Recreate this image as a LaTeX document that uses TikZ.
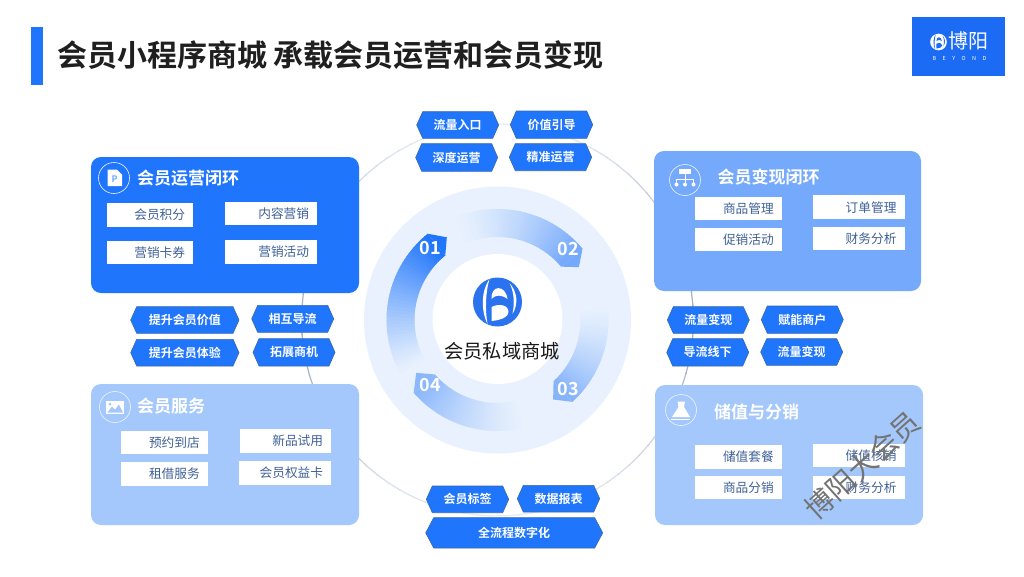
\documentclass[tikz,border=0pt]{standalone}
\usepackage{fontspec}
\setmainfont{Noto Sans CJK SC}[BoldFont={Noto Sans CJK SC Bold}]
\definecolor{mainblue}{HTML}{1F75FB}
\definecolor{midblue}{HTML}{74A9FB}
\definecolor{paleblue}{HTML}{A5C8FC}
\definecolor{ringbg}{HTML}{E8F1FD}
\definecolor{tagedge}{HTML}{3A6AA8}
\definecolor{boxtext}{HTML}{3F6198}
\definecolor{linegrey}{HTML}{A3B1C4}
\definecolor{lightline}{HTML}{E6EBF2}
\definecolor{logoblue}{HTML}{1C6BF5}
\definecolor{discblue}{HTML}{2A72EE}
\tikzset{
  x=1pt,y=-1pt,
  card/.style={rounded corners=10pt},
  whitebox/.style={fill=white},
  boxlabel/.style={text=boxtext,font=\fontsize{12.7}{13}\selectfont,anchor=east,inner sep=0pt},
  cardtitle/.style={text=white,font=\bfseries\fontsize{17}{17}\selectfont,anchor=west,inner sep=0pt},
  taglabel/.style={text=white,font=\bfseries\fontsize{12}{12}\selectfont,inner sep=0pt},
  tagshape/.style={fill=mainblue,draw=tagedge,line width=0.6pt,line join=round},
  iconring/.style={draw=white!80!paleblue,line width=0.6pt},
  ringnum/.style={text=white,font=\bfseries\fontsize{18}{18}\selectfont,inner sep=0pt},
}
% \tagbox{name}{x1}{y1}{x2}{y2}{inset}{text}
\newcommand{\tagbox}[7]{%
  \draw[tagshape] (#2+#6,#3) -- (#4-#6,#3) -- (#4,{(#3+#5)/2}) -- (#4-#6,#5) -- (#2+#6,#5) -- (#2,{(#3+#5)/2}) -- cycle;
  \node[taglabel] (#1) at ({(#2+#4)/2},{(#3+#5)/2}) {#7};
}
% \itembox{name}{x1}{y1}{x2}{y2}{textend}{text}
\newcommand{\itembox}[7]{%
  \fill[whitebox] (#2,#3) rectangle (#4,#5);
  \node[boxlabel] (#1) at (#6,{(#3+#5)/2}) {#7};
}
\newcommand{\polarpt}[2]{({497.5+#1*cos(#2)},{320-#1*sin(#2)})}
% \bandarc{head angle}{tail angle}{tip angle}{head colour}{exponent}
\newcommand{\bandarc}[5]{%
  \foreach \i in {0,...,39} {
    \pgfmathsetmacro{\aa}{#1+(#2-(#1))*\i/40}
    \pgfmathsetmacro{\ab}{#1+(#2-(#1))*(\i+1.25)/40}
    \pgfmathsetmacro{\mixv}{100*(1-\i/40)^#5}
    \fill[#4!\mixv!ringbg] \polarpt{111}{\aa} -- \polarpt{111}{\ab} -- \polarpt{83}{\ab} -- \polarpt{83}{\aa} -- cycle;
  }
  \fill[#4] \polarpt{111}{#1} -- \polarpt{97}{#3} -- \polarpt{83}{#1} -- cycle;
}
% brand mark: disc of radius 24.5 with its counters, at (#1) scaled by #2
\newcommand{\brandmark}[4]{%
  \begin{scope}[shift={(#1)},scale=#2]
    \fill[#3] (0,0) circle[radius=24.5];
    \fill[#4] (-8,-23) .. controls (-16,-12) and (-17,8) .. (-10,22) .. controls (-12.5,8) and (-12,-10) .. (-8,-23) -- cycle;
    \fill[#4] (12,-19) .. controls (20,-10) and (21,2) .. (15,12) .. controls (17,2) and (17,-9) .. (12,-19) -- cycle;
    \fill[#4] (-6,-3) .. controls (-7,-17) and (8,-18) .. (10,-3) .. controls (4,-7.5) and (-2,-7.5) .. (-6,-3) -- cycle;
    \fill[#4] (-6,5) .. controls (2,1) and (11,3) .. (11,10) .. controls (11,15) and (4,18) .. (-6,19) -- cycle;
  \end{scope}
}
\begin{document}
\begin{tikzpicture}
\useasboundingbox (0,0) rectangle (1024,576);
\fill[white] (0,0) rectangle (1024,576);

% thin big circle, darker at the sides
\foreach \a in {0,4,...,356} {
  \pgfmathsetmacro{\mixv}{100*abs(cos(\a))^3}
  \pgfmathsetmacro{\b}{\a+4.5}
  \draw[linegrey!\mixv!lightline,line width=1.2pt] \polarpt{196}{\a} -- \polarpt{196}{\b};
}

% title
\fill[mainblue] (31,27) rectangle (43,85);
\node[anchor=west,inner sep=0pt,text=black!88,font=\bfseries\fontsize{30}{30}\selectfont] (title) at (57,55) {会员小程序商城 承载会员运营和会员变现};

% corner logo
\fill[logoblue] (912,17) rectangle (1005,76);
\brandmark{938.5,42}{0.34}{white}{logoblue}
\node[text=white,inner sep=0pt,font=\fontsize{20}{20}\selectfont] (logocn) at (968,41) {博阳};
\node[text=white,inner sep=0pt,font=\fontsize{5.5}{5.5}\selectfont] (logoen) at (959.5,58) {B\hspace{6.4pt}E\hspace{6.4pt}Y\hspace{6.4pt}O\hspace{6.4pt}N\hspace{6.4pt}D};

% central ring
\fill[ringbg] (497.5,320) circle[radius=133.5];
\bandarc{129}{208}{121.5}{mainblue}{1.15}
\bandarc{40}{112}{33}{midblue}{1.4}
\bandarc{-47.5}{8}{-55}{midblue!85!ringbg}{1.4}
\bandarc{221}{285}{213}{midblue!80!ringbg}{1.4}
\fill[white] (497.5,319) circle[radius=65];
\node[ringnum] (n1) at (430.5,248.5) {01};
\node[ringnum] (n2) at (568,249) {02};
\node[ringnum] (n3) at (568,389) {03};
\node[ringnum] (n4) at (430,385.5) {04};

% central logo
\brandmark{497.5,302}{1}{discblue}{white}
\node[inner sep=0pt,text=black!90,font=\fontsize{19.2}{20}\selectfont] (center) at (502,351.5) {会员私域商城};

% cards
\fill[card,mainblue] (91,157) rectangle (359,293);
\fill[card,midblue] (654,151) rectangle (921,291);
\fill[card,paleblue] (91,384) rectangle (359,525);
\fill[card,paleblue] (655,385) rectangle (923,525);

% card icons
\draw[iconring] (114,178) circle[radius=15.5];
\fill[white] (107.5,169.5) -- (117,169.5) -- (122,174.5) -- (122,186) -- (107.5,186) -- cycle;
\node[inner sep=0pt,text=midblue,font=\bfseries\fontsize{9}{9}\selectfont] (iconp) at (114.5,179) {P};

\draw[iconring] (685,180) circle[radius=15.5];
\fill[white] (679,169) rectangle (691,174.3);
\draw[white,line width=0.7pt] (685,174) -- (685,184) (676.5,184) -- (676.5,179) -- (693.5,179) -- (693.5,184);
\fill[white] (676.5,184.5) circle[radius=2] (685,184.5) circle[radius=2] (693.5,184.5) circle[radius=2];

\draw[iconring] (115,407) circle[radius=15.5];
\fill[white] (106,401) rectangle (124,413.5);
\fill[paleblue] (107.5,412.5) -- (112,406.5) -- (115,409.5) -- (119,404.5) -- (123,412.5) -- cycle;
\fill[paleblue] (110,404) circle[radius=1.5];

\draw[iconring] (681,410) circle[radius=15.5];
\fill[white] (677.5,401.7) -- (685,401.7) -- (684,407) -- (690,417) -- (672,417) -- (678.5,407) -- cycle;
\draw[white,line width=0.6pt] (671,419.3) -- (690,419.3);

% card titles
\node[cardtitle] (t1) at (137,178) {会员运营闭环};
\node[cardtitle] (t2) at (717.5,177) {会员变现闭环};
\node[cardtitle] (t3) at (137,406) {会员服务};
\node[cardtitle] (t4) at (714,412) {储值与分销};

% item boxes
\itembox{a1}{106.7}{203.3}{193.3}{226.7}{185.3}{会员积分}
\itembox{a2}{225.3}{201.7}{316.7}{224.7}{309.3}{内容营销}
\itembox{a3}{106.7}{241}{193.3}{263.7}{185.3}{营销卡券}
\itembox{a4}{224.7}{240.3}{316.7}{263.7}{309.3}{营销活动}

\itembox{b1}{694.7}{197}{781.7}{220.3}{774}{商品管理}
\itembox{b2}{813.3}{195.3}{904.7}{219}{896.7}{订单管理}
\itembox{b3}{694.7}{227.7}{781.7}{251}{774}{促销活动}
\itembox{b4}{812.7}{227.3}{904.7}{250.3}{896.7}{财务分析}

\itembox{c1}{120.7}{431.3}{207.7}{454.3}{200}{预约到店}
\itembox{c2}{240}{429.3}{331.3}{453}{323.3}{新品试用}
\itembox{c3}{120.7}{462.3}{207.7}{485.7}{200}{租借服务}
\itembox{c4}{238.7}{461.3}{331.3}{485}{323.3}{会员权益卡}

\itembox{d1}{694.7}{445}{781.7}{468.7}{774}{储值套餐}
\itembox{d2}{813.3}{443.7}{904.7}{467.3}{896.7}{储值核销}
\itembox{d3}{694.7}{475.7}{781.7}{499}{774}{商品分销}
\itembox{d4}{812.7}{475.7}{904.7}{498.7}{896.7}{财务分析}

% hexagon tags
\tagbox{h1}{416.7}{111.7}{498.7}{138.3}{6}{流量入口}
\tagbox{h2}{510.3}{111}{592.7}{138.3}{6}{价值引导}
\tagbox{h3}{415.7}{143.7}{497.7}{171.3}{6}{深度运营}
\tagbox{h4}{509.3}{143.7}{591.7}{170.7}{6}{精准运营}

\tagbox{l1}{130.7}{306.7}{239}{333.3}{6}{提升会员价值}
\tagbox{l2}{251.7}{305.3}{333.7}{332.3}{6}{相互导流}
\tagbox{l3}{130.7}{339.3}{239}{366}{6}{提升会员体验}
\tagbox{l4}{253}{338.7}{335}{366}{6}{拓展商机}

\tagbox{r1}{667.3}{306.7}{749.3}{333.3}{6}{流量变现}
\tagbox{r2}{761.3}{306}{843.3}{333.3}{6}{赋能商户}
\tagbox{r3}{666.7}{338.7}{748.7}{366}{6}{导流线下}
\tagbox{r4}{760.7}{338.7}{842.7}{365.3}{6}{流量变现}

\tagbox{b5}{426.3}{486}{508.7}{512.7}{6}{会员标签}
\tagbox{b6}{517.3}{485.3}{599.7}{512}{6}{数据报表}
\tagbox{b7}{425.7}{517.7}{602.7}{548}{8}{全流程数字化}

% watermark
\node[inner sep=0pt,rotate=42,text=black!55,font=\fontsize{28.5}{29}\selectfont] (wm) at (862.5,465.5) {博阳大会员};
\end{tikzpicture}
\end{document}
